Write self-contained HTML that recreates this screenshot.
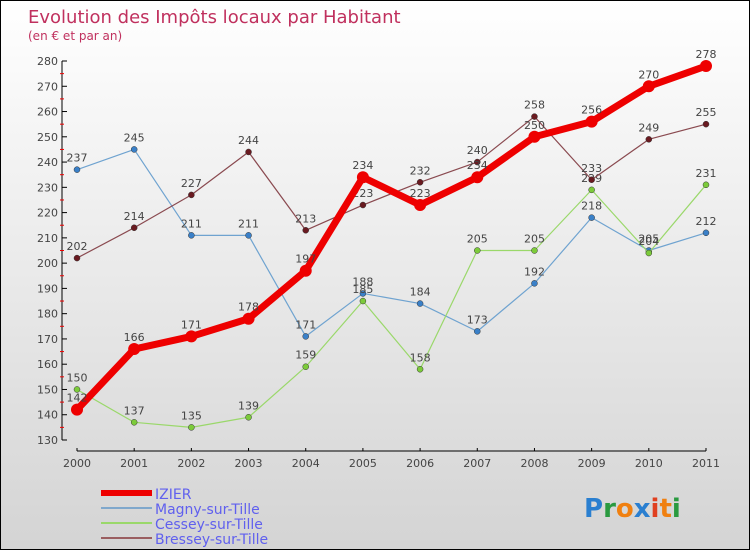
<!DOCTYPE html>
<html><head><meta charset="utf-8"><style>
body{margin:0}
#wrap{position:relative;width:750px;height:550px;box-sizing:border-box;border:1px solid #000;background:linear-gradient(#fff,#d4d4d4);font-family:"DejaVu Sans","Liberation Sans",sans-serif;overflow:hidden}
svg{position:absolute;left:0;top:0}
</style></head><body>
<div id="wrap">
<svg id="c" width="750" height="550"></svg>
</div>
<script>
const years=["2000","2001","2002","2003","2004","2005","2006","2007","2008","2009","2010","2011"];
const izier=[142,166,171,178,197,234,223,234,250,256,270,278];
const magny=[237,245,211,211,171,188,184,173,192,218,205,212];
const cessey=[150,137,135,139,159,185,158,205,205,229,204,231];
const bressey=[202,214,227,244,213,223,232,240,258,233,249,255];
const yTicks=[130,140,150,160,170,180,190,200,210,220,230,240,250,260,270,280];
const NS="http://www.w3.org/2000/svg";
const svg=document.getElementById('c');
function X(i){return 76+i*(705-76)/11;}
function Y(v){return 439-(v-130)*(439-60)/150;}
function el(t,a,p){const e=document.createElementNS(NS,t);for(const k in a)e.setAttribute(k,a[k]);(p||svg).appendChild(e);return e;}
function txt(x,y,s,a,sz,fill,name){const t=el('text',{x:x,y:y,'font-size':sz,fill:fill,'text-anchor':a});t.textContent=s;return t;}
txt(27,22,"Evolution des Impôts locaux par Habitant","start",18,"#c0305e","chart-title");
txt(27,39,"(en € et par an)","start",12,"#c0305e","chart-subtitle");
// axes
const ax=el('g',{});
el('line',{x1:61,y1:60,x2:61,y2:439,stroke:'#000'},ax);
yTicks.forEach(v=>{el('line',{x1:61,y1:Y(v),x2:66,y2:Y(v),stroke:'#000'},ax);
 if(v<280)el('line',{x1:59,y1:Y(v+5),x2:63,y2:Y(v+5),stroke:'#e00'},ax);
 const t=txt(57,Y(v)+4,String(v),"end",11,"#444","y-tick-label");});
const xa=el('g',{});
el('line',{x1:76,y1:450,x2:705,y2:450,stroke:'#000'},xa);
years.forEach((y,i)=>{el('line',{x1:X(i),y1:447,x2:X(i),y2:450,stroke:'#000'},xa);txt(X(i),466,y,"middle",11,"#444","x-tick-label");});
function series(d,color,w,r,name,dot){
 const g=el('g',{});
 el('polyline',{points:d.map((v,i)=>X(i)+','+Y(v)).join(' '),fill:'none',stroke:color,'stroke-width':w,'stroke-linejoin':'round'},g);
 d.forEach((v,i)=>{const c=el('circle',{cx:X(i),cy:Y(v),r:r,fill:dot,stroke:'#333','stroke-width':r>4?0:0.5},g);
  const t=txt(X(i),Y(v)-8,String(v),"middle",11,"#444","value-label");});
}
series(magny,'#6fa3d0',1.2,3,'series-magny','#3a80c8');
series(cessey,'#9ad86a',1.2,3,'series-cessey','#7ccb3a');
series(bressey,'#8a4a50',1.2,3,'series-bressey','#6a1a20');
series(izier,'#ee0000',7,6,'series-izier','#ee0000');
// legend
const lg=[["IZIER","#ee0000",6],["Magny-sur-Tille","#80a8cc",2],["Cessey-sur-Tille","#9ad86a",2],["Bressey-sur-Tille","#9a5e60",2]];
lg.forEach((l,i)=>{const g=el('g',{});
 const y=492+i*15;el('line',{x1:100,y1:y,x2:151,y2:y,stroke:l[1],'stroke-width':l[2]},g);
 const t=el('text',{x:154,y:y+6,'font-size':14,fill:'#6060ee'},g);t.textContent=l[0];});
// logo
const logo=el('text',{x:583,y:516,'font-size':26,'font-weight':'bold'});
[["P","#2a7fd0"],["r","#2a9a40"],["o","#f08010"],["x","#2a7fd0"],["i","#e04020"],["t","#f08010"],["i","#2a9a40"]].forEach(p=>{const s=el('tspan',{fill:p[1]},logo);s.textContent=p[0];});
</script>
</body></html>
